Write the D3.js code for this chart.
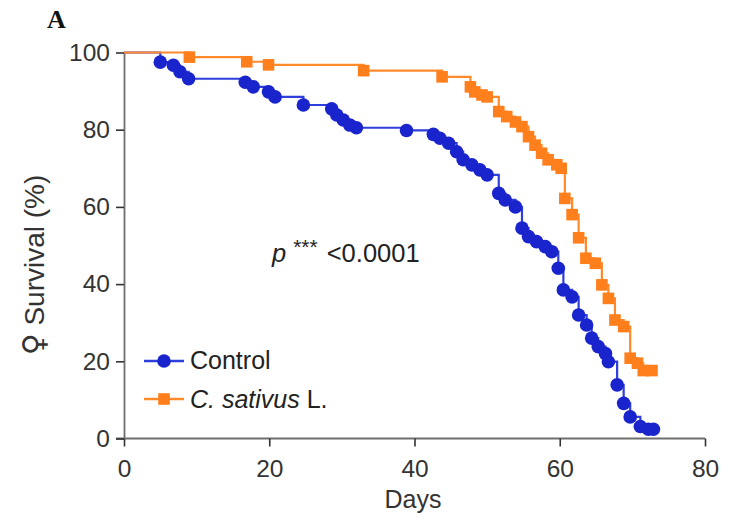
<!DOCTYPE html>
<html>
<head>
<meta charset="utf-8">
<script src="https://cdn.jsdelivr.net/npm/d3@7"></script>
<style>
  html, body { margin: 0; padding: 0; background: #fff; }
  svg { display: block; font-family: "Liberation Sans", Arial, sans-serif; }
</style>
</head>
<body>
<svg id="chart" width="729" height="518"></svg>
<script>
// ---- data ----
const controlDays = [0, 5, 6.8, 7.7, 8.9, 16.7, 17.8, 19.9, 20.8, 24.7, 28.6, 29.3, 30.2, 31.1, 32, 38.9,
  42.6, 43.5, 44.7, 45.8, 46.7, 47.9, 49, 50, 51.6, 52.5, 53.9, 54.8, 55.7, 56.8, 58, 58.9, 59.8, 60.5,
  61.7, 62.6, 63.7, 64.4, 65.3, 66.3, 66.7, 67.9, 68.8, 69.7, 71.1, 72.2, 72.9];
const controlSurv = [100, 97.5, 96.7, 95, 93.2, 92.3, 91.1, 89.8, 88.5, 86.4, 85.4, 83.8, 82.5, 81.2, 80.5, 79.8,
  78.8, 77.8, 76.5, 74.3, 72.2, 70.9, 69.6, 68.3, 63.5, 61.8, 60, 54.5, 52.3, 51, 49.7, 48.4, 44.1, 38.5,
  36.7, 32, 29.4, 26, 23.8, 22, 19.9, 13.9, 9.1, 5.6, 3.1, 2.4, 2.4];

const sativusDays = [0, 9, 16.9, 19.9, 33, 43.8, 47.7, 48.3, 49.3, 50, 51.6, 52.7, 53.9, 54.8, 55.7, 56.6,
  57.5, 58.4, 59.6, 60.2, 60.7, 61.7, 62.6, 63.6, 64.9, 65.8, 66.7, 67.6, 68.8, 69.7, 70.7, 71.5, 72.7];
const sativusSurv = [100, 98.8, 97.6, 96.8, 95.3, 93.7, 91.1, 89.8, 89, 88.5, 84.7, 83.4, 82, 80.8, 78.2, 76,
  73.9, 72.2, 70.9, 70, 62.2, 58, 52, 46.7, 45.4, 39.8, 36.3, 30.7, 29, 20.8, 19.5, 17.6, 17.6];

const xTicks = [0, 20, 40, 60, 80];
const yTicks = [0, 20, 40, 60, 80, 100];
const seriesNames = ["Control", "C. sativus L."];

// ---- drawing ----
const svg = d3.select("#chart");
const x = d3.scaleLinear().domain([0, 80]).range([124, 705]);
const y = d3.scaleLinear().domain([0, 100]).range([438.5, 52.5]);

const blueLine = "#2f3fdc", blueDot = "#1a24cc";
const orangeLine = "#ff8a2c", orangeDot = "#ff7f1c";
const axisColor = "#6e6e6e";

// axes
const gx = svg.append("g").attr("transform", `translate(0,${y(0)})`)
  .call(d3.axisBottom(x).tickValues(xTicks).tickSize(8).tickSizeOuter(0).tickPadding(13));
const gy = svg.append("g").attr("transform", `translate(${x(0)},0)`)
  .call(d3.axisLeft(y).tickValues(yTicks).tickSize(8).tickSizeOuter(0).tickPadding(6));
[gx, gy].forEach(g => {
  g.select(".domain").attr("stroke", axisColor).attr("stroke-width", 1.8);
  g.selectAll(".tick line").attr("stroke", "#333").attr("stroke-width", 1.6);
  g.selectAll(".tick text").attr("fill", "#333").attr("font-size", 24.5)
    .attr("font-family", "'Liberation Sans', Arial, sans-serif");
});
gx.select(".domain").attr("d", `M${x(0) - 8},0H${x(80)}`);

function series(days, surv) { return days.map((d, i) => [d, surv[i]]); }
const line = d3.line().x(d => x(d[0])).y(d => y(d[1])).curve(d3.curveStepAfter);

const ctrl = series(controlDays, controlSurv);
const sat = series(sativusDays, sativusSurv);

svg.append("path").datum(ctrl).attr("d", line).attr("fill", "none")
  .attr("stroke", blueLine).attr("stroke-width", 2.2);
svg.append("path").datum(sat).attr("d", line).attr("fill", "none")
  .attr("stroke", orangeLine).attr("stroke-width", 2.2);

svg.append("g").selectAll("circle").data(ctrl.slice(1)).join("circle")
  .attr("cx", d => x(d[0])).attr("cy", d => y(d[1])).attr("r", 6.8).attr("fill", blueDot);
svg.append("g").selectAll("rect").data(sat.slice(1)).join("rect")
  .attr("x", d => x(d[0]) - 5.8).attr("y", d => y(d[1]) - 5.8)
  .attr("width", 11.6).attr("height", 11.6).attr("fill", orangeDot);

// legend
const lg = svg.append("g");
lg.append("line").attr("x1", 144).attr("x2", 184).attr("y1", 361).attr("y2", 361)
  .attr("stroke", blueLine).attr("stroke-width", 2.4);
lg.append("circle").attr("cx", 164).attr("cy", 361).attr("r", 6.8).attr("fill", blueDot);
lg.append("text").attr("x", 190).attr("y", 369).attr("font-size", 25).attr("fill", "#222")
  .text(seriesNames[0]);
lg.append("line").attr("x1", 144).attr("x2", 184).attr("y1", 399).attr("y2", 399)
  .attr("stroke", orangeLine).attr("stroke-width", 2.4);
lg.append("rect").attr("x", 158.2).attr("y", 393.2).attr("width", 11.6).attr("height", 11.6).attr("fill", orangeDot);
const t2 = lg.append("text").attr("x", 190).attr("y", 408).attr("font-size", 25).attr("fill", "#222");
t2.append("tspan").attr("font-style", "italic").text("C. sativus");
t2.append("tspan").text(" L.");

// p-value annotation
const pt = svg.append("text").attr("x", 272).attr("y", 262).attr("font-size", 25.5).attr("fill", "#222");
pt.append("tspan").attr("font-style", "italic").text("p");
pt.append("tspan").attr("font-size", 21).attr("dx", 7).attr("dy", -8).text("***");
pt.append("tspan").attr("dx", 9).attr("dy", 8).text("<0.0001");

// y axis title
const yt = svg.append("text").attr("transform", "translate(44,265) rotate(-90)")
  .attr("text-anchor", "middle").attr("font-size", 28).attr("fill", "#333");
yt.append("tspan").attr("font-family", "'DejaVu Sans', sans-serif").attr("font-size", 30).text("♀");
yt.append("tspan").text(" Survival (%)");

// x axis title
svg.append("text").attr("x", 413).attr("y", 508).attr("text-anchor", "middle")
  .attr("font-size", 25).attr("fill", "#333").text("Days");

// panel letter
svg.append("text").attr("x", 47).attr("y", 28).attr("font-size", 26).attr("font-weight", "bold")
  .attr("font-family", "'Liberation Serif', 'Times New Roman', serif").attr("fill", "#111").text("A");
</script>
</body>
</html>
